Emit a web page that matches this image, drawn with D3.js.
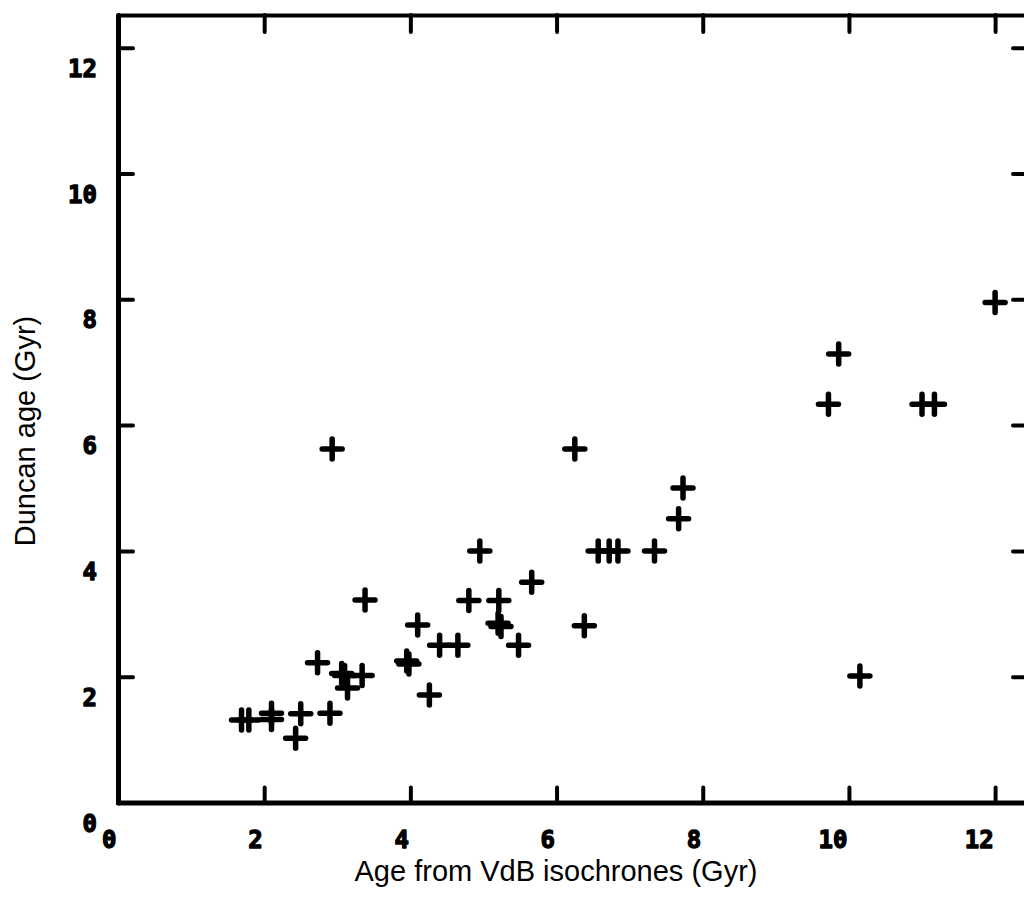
<!DOCTYPE html>
<html>
<head>
<meta charset="utf-8">
<script src="https://cdn.jsdelivr.net/npm/d3@7"></script>
<style>
  html, body { margin: 0; padding: 0; background: #fff; }
  svg { display: block; }
</style>
</head>
<body>
<svg id="chart" width="1024" height="900"></svg>
<script>
// Isochrone ages vs. Duncan ages, in Gyr
const vdbAge = [
  1.69, 1.79, 2.10, 2.10, 2.50, 2.43, 2.90, 2.73, 3.06, 3.10, 3.14, 3.34,
  3.95, 3.98, 4.26, 4.10, 4.40, 4.65, 5.48, 5.20, 5.24, 6.38, 4.80, 5.21,
  5.66, 4.95, 3.38, 2.93, 6.25, 6.57, 6.72, 6.84, 7.34, 7.67, 7.73, 9.72,
  9.86, 11.00, 11.17, 12.00, 10.15
];
const duncanAge = [
  1.31, 1.31, 1.42, 1.32, 1.41, 1.02, 1.42, 2.22, 2.05, 2.02, 1.82, 2.02,
  2.25, 2.20, 1.71, 2.82, 2.50, 2.50, 2.50, 2.85, 2.80, 2.81, 3.21, 3.21,
  3.50, 4.00, 3.22, 5.62, 5.62, 4.00, 4.00, 4.00, 4.00, 4.51, 5.00, 6.33,
  7.13, 6.33, 6.33, 7.95, 2.01
];
const xTicks = [0, 2, 4, 6, 8, 10, 12];
const yTicks = [0, 2, 4, 6, 8, 10, 12];
const xTitle = "Age from VdB isochrones (Gyr)";
const yTitle = "Duncan age (Gyr)";

const svg = d3.select("#chart");

const x = d3.scaleLinear().domain([0, 12.45]).range([118, 1028]);
const y = d3.scaleLinear().domain([0, 12.52]).range([802.5, 15]);

const tickFont = "'DejaVu Sans Mono', monospace";

function styleTickText(sel) {
  sel.attr("font-family", tickFont).attr("font-weight", "bold")
    .attr("font-size", 24).attr("fill", "#000")
    .attr("stroke", "#000").attr("stroke-width", 1.3)
    .attr("stroke-linejoin", "round");
}

// Bottom axis: inward ticks, labels right-aligned under each tick
const gBottom = svg.append("g")
  .attr("transform", `translate(0,${y(0)})`)
  .call(d3.axisBottom(x).tickValues(xTicks).tickSize(-15).tickSizeOuter(0)
        .tickFormat(d3.format("d")));
gBottom.select(".domain").attr("stroke-width", 5);
gBottom.selectAll(".tick line").attr("stroke-width", 4);
gBottom.selectAll(".tick text")
  .attr("x", -2).attr("y", 45).attr("dy", null).attr("text-anchor", "end")
  .call(styleTickText);

// Left axis: inward ticks, labels sitting just below each tick
const gLeft = svg.append("g")
  .attr("transform", `translate(${x(0)},0)`)
  .call(d3.axisLeft(y).tickValues(yTicks).tickSize(-15).tickSizeOuter(0)
        .tickFormat(d3.format("d")));
gLeft.select(".domain").attr("stroke-width", 5);
gLeft.selectAll(".tick line").attr("stroke-width", 4);
gLeft.selectAll(".tick text")
  .attr("x", -21).attr("y", 20).attr("dy", "0.36em").attr("text-anchor", "end")
  .call(styleTickText);

// Top axis: ticks only
const gTop = svg.append("g")
  .attr("transform", `translate(0,${y(12.52)})`)
  .call(d3.axisTop(x).tickValues(xTicks.filter(d => d > 0)).tickSize(-17)
        .tickSizeOuter(0).tickFormat(""));
gTop.select(".domain").attr("stroke-width", 4);
gTop.selectAll(".tick line").attr("stroke-width", 4);

// Right axis: ticks only
const gRight = svg.append("g")
  .attr("transform", `translate(${x(12.45)},0)`)
  .call(d3.axisRight(y).tickValues(yTicks.filter(d => d > 0)).tickSize(-15)
        .tickSizeOuter(0).tickFormat(""));
gRight.select(".domain").attr("stroke-width", 5);
gRight.selectAll(".tick line").attr("stroke-width", 4);

svg.selectAll(".domain, .tick line").attr("stroke", "#000").attr("stroke-linecap", "round");

// Plus-sign markers
const plus = "M-10,0H10M0,-10V10";
svg.append("g")
  .selectAll("path")
  .data(vdbAge.map((v, i) => ({ vx: v, vy: duncanAge[i] })))
  .join("path")
  .attr("d", plus)
  .attr("transform", d => `translate(${x(d.vx)},${y(d.vy)})`)
  .attr("fill", "none")
  .attr("stroke", "#000")
  .attr("stroke-width", 5.5)
  .attr("stroke-linecap", "round");

// Axis titles
svg.append("text")
  .attr("x", 556).attr("y", 881)
  .attr("text-anchor", "middle")
  .attr("font-family", "'Liberation Sans', Arial, sans-serif")
  .attr("font-size", 29).attr("fill", "#000")
  .text(xTitle);

svg.append("text")
  .attr("transform", "translate(35,431) rotate(-90)")
  .attr("text-anchor", "middle")
  .attr("font-family", "'Liberation Sans', Arial, sans-serif")
  .attr("font-size", 29).attr("fill", "#000")
  .text(yTitle);
</script>
</body>
</html>
